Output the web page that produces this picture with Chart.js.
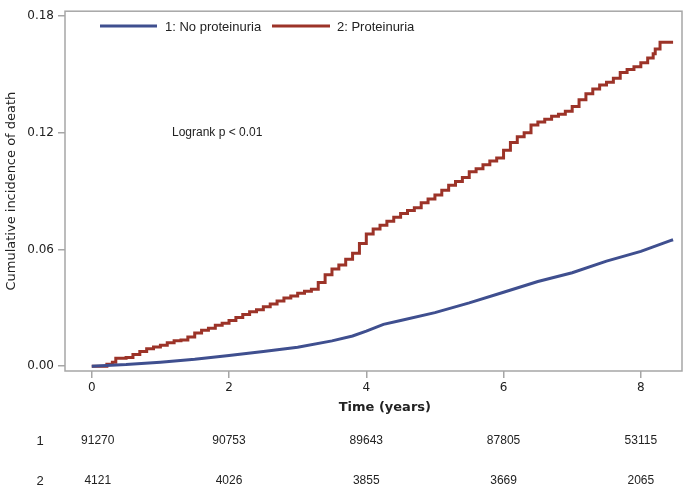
<!DOCTYPE html>
<html>
<head>
<meta charset="utf-8">
<script src="https://cdn.jsdelivr.net/npm/chart.js@4.4.0/dist/chart.umd.min.js"></script>
<style>
  html, body { margin: 0; padding: 0; background: #fff; }
  #wrap { width: 685px; height: 489px; }
</style>
</head>
<body>
<div id="wrap"><canvas id="chart" width="685" height="489"></canvas></div>
<script>
// Series (time in years, cumulative incidence)
const seriesLabels = ['1: No proteinuria', '2: Proteinuria'];

const timesNoProt = [0, 0.5, 1.0, 1.5, 2.0, 2.5, 3.0, 3.5, 3.8, 4.0, 4.25, 4.5, 5.0, 5.5, 6.0, 6.5, 7.0, 7.5, 8.0, 8.43, 8.47];
const incNoProt   = [0, 0.0008, 0.002, 0.0035, 0.0055, 0.0075, 0.0097, 0.013, 0.0155, 0.018, 0.0215, 0.0235, 0.0275, 0.0325, 0.038, 0.0435, 0.048, 0.054, 0.059, 0.0645, 0.065];

const timesProt = [0, 0.18, 0.22, 0.3, 0.35, 0.5, 0.6, 0.7, 0.8, 0.9, 1.0, 1.1, 1.2, 1.3, 1.4, 1.5, 1.6, 1.7, 1.8, 1.9, 2.0,
                   2.1, 2.2, 2.3, 2.4, 2.5, 2.6, 2.7, 2.8, 2.9, 3.0, 3.1, 3.2, 3.3, 3.4, 3.5, 3.6, 3.7, 3.8, 3.9, 4.0,
                   4.1, 4.2, 4.3, 4.4, 4.5, 4.6, 4.7, 4.8, 4.9, 5.0, 5.1, 5.2, 5.3, 5.4, 5.5, 5.6, 5.7, 5.8, 5.9, 6.0,
                   6.1, 6.2, 6.3, 6.4, 6.5, 6.6, 6.7, 6.8, 6.9, 7.0, 7.1, 7.2, 7.3, 7.4, 7.5, 7.6, 7.7, 7.8, 7.9, 8.0,
                   8.1, 8.18, 8.21, 8.28, 8.47];
const incProt   = [0, 0, 0.001, 0.002, 0.004, 0.0045, 0.006, 0.0075, 0.009, 0.0098, 0.0108, 0.012, 0.013, 0.0135, 0.015, 0.017, 0.0185, 0.0195, 0.021, 0.022, 0.0235,
                   0.025, 0.0265, 0.028, 0.029, 0.0305, 0.032, 0.0335, 0.035, 0.036, 0.0375, 0.0385, 0.0395, 0.043, 0.047, 0.050, 0.052, 0.055, 0.058, 0.063, 0.068,
                   0.0705, 0.0725, 0.0745, 0.0765, 0.0785, 0.080, 0.0815, 0.084, 0.086, 0.088, 0.0905, 0.093, 0.095, 0.097, 0.100, 0.1015, 0.1035, 0.1055, 0.107, 0.111,
                   0.115, 0.118, 0.120, 0.124, 0.1255, 0.127, 0.1285, 0.1295, 0.131, 0.1335, 0.137, 0.140, 0.1425, 0.1445, 0.146, 0.148, 0.151, 0.1525, 0.154, 0.156,
                   0.1585, 0.1606, 0.163, 0.1665, 0.1665];

const xTicks = [0, 2, 4, 6, 8];
const yTicks = [0, 0.06, 0.12, 0.18];

// Number at risk table
const riskGroups = ['1', '2'];
const riskNoProt = [91270, 90753, 89643, 87805, 53115];
const riskProt   = [4121, 4026, 3855, 3669, 2065];

const BLUE = '#3f4f8f';
const RED = '#9c3328';
const FRAME = '#a6a6a6';

function toPoints(xs, ys) {
    return xs.map((x, i) => ({ x: x, y: ys[i] }));
}

const overlay = {
    id: 'overlay',
    afterDraw(chart) {
        const ctx = chart.ctx;
        const area = chart.chartArea;
        const xs = chart.scales.x;

        ctx.save();
        // plot frame
        ctx.strokeStyle = FRAME;
        ctx.lineWidth = 1.5;
        ctx.strokeRect(area.left, area.top, area.right - area.left, area.bottom - area.top);

        // legend inside plot
        ctx.lineWidth = 3;
        ctx.strokeStyle = BLUE;
        ctx.beginPath(); ctx.moveTo(100, 26); ctx.lineTo(157, 26); ctx.stroke();
        ctx.strokeStyle = RED;
        ctx.beginPath(); ctx.moveTo(272, 26); ctx.lineTo(330, 26); ctx.stroke();
        ctx.fillStyle = '#222';
        ctx.font = '13px "Liberation Sans", Arial, sans-serif';
        ctx.textBaseline = 'middle';
        ctx.textAlign = 'left';
        ctx.fillText(seriesLabels[0], 165, 27);
        ctx.fillText(seriesLabels[1], 337, 27);

        ctx.font = '12px "Liberation Sans", Arial, sans-serif';
        ctx.fillText('Logrank p < 0.01', 172, 133);

        // axis titles
        ctx.font = 'bold 13px "DejaVu Sans", sans-serif';
        ctx.textAlign = 'center';
        ctx.fillText('Time (years)', xs.getPixelForValue(4.27), 408);

        ctx.save();
        ctx.translate(12, (area.top + area.bottom) / 2);
        ctx.rotate(-Math.PI / 2);
        ctx.font = '13px "DejaVu Sans", sans-serif';
        ctx.fillText('Cumulative incidence of death', 0, 0);
        ctx.restore();

        // number at risk
        ctx.fillStyle = '#222';
        const rows = [riskNoProt, riskProt];
        const rowY = [441, 481];
        rows.forEach((vals, r) => {
            ctx.textAlign = 'center';
            ctx.font = '13px "Liberation Sans", sans-serif';
            ctx.fillText(riskGroups[r], 40, rowY[r]);
            ctx.font = '12px "Liberation Sans Narrow", "Liberation Sans", sans-serif';
            vals.forEach((v, i) => {
                let px = xs.getPixelForValue(xTicks[i]);
                if (i === 0) px += 6;
                ctx.fillText(String(v), px, rowY[r]);
            });
        });
        ctx.restore();
    }
};

new Chart(document.getElementById('chart'), {
    type: 'line',
    data: {
        datasets: [
            {
                label: seriesLabels[0],
                data: toPoints(timesNoProt, incNoProt),
                borderColor: BLUE,
                borderWidth: 3,
                pointRadius: 0,
                stepped: false,
                tension: 0
            },
            {
                label: seriesLabels[1],
                data: toPoints(timesProt, incProt),
                borderColor: RED,
                borderWidth: 3,
                pointRadius: 0,
                stepped: 'before'
            }
        ]
    },
    options: {
        responsive: false,
        animation: false,
        devicePixelRatio: 1,
        layout: { padding: { top: 3, right: 3, left: 0, bottom: 0 } },
        plugins: {
            legend: { display: false },
            tooltip: { enabled: false }
        },
        scales: {
            x: {
                type: 'linear',
                min: -0.39,
                max: 8.6,
                afterBuildTicks: (scale) => { scale.ticks = xTicks.map(v => ({ value: v })); },
                afterFit: (scale) => { scale.height = 118; },
                ticks: {
                    color: '#222',
                    font: { family: '"DejaVu Sans", sans-serif', size: 12 },
                    padding: 3,
                    maxRotation: 0
                },
                grid: { drawOnChartArea: false, tickLength: 7, color: FRAME, lineWidth: 1.5 },
                border: { display: false }
            },
            y: {
                min: -0.0025,
                max: 0.1825,
                afterBuildTicks: (scale) => { scale.ticks = yTicks.map(v => ({ value: v })); },
                afterFit: (scale) => { scale.width = 65; },
                ticks: {
                    color: '#222',
                    font: { family: '"DejaVu Sans", sans-serif', size: 12 },
                    padding: 4,
                    callback: (v) => v.toFixed(2)
                },
                grid: { drawOnChartArea: false, tickLength: 7, color: FRAME, lineWidth: 1.5 },
                border: { display: false }
            }
        }
    },
    plugins: [overlay]
});
</script>
</body>
</html>
